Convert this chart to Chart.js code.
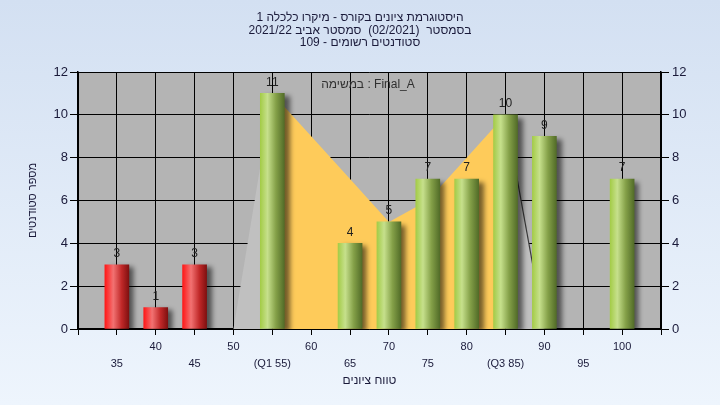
<!DOCTYPE html>
<html>
<head>
<meta charset="utf-8">
<script src="https://cdn.jsdelivr.net/npm/chart.js@4/dist/chart.umd.min.js"></script>
<style>
  body { margin: 0; background: #e6eef9; }
  #histChart { display: block; }
</style>
</head>
<body>
<canvas id="histChart" width="720" height="405"></canvas>
<script>
// ---------- data ----------
const grades = [35, 40, 45, 50, 55, 60, 65, 70, 75, 80, 85, 90, 95, 100];
const counts = [3, 1, 3, 0, 11, 0, 4, 5, 7, 7, 10, 9, 0, 7];
// background distribution curve (shaded area behind the bars)
const curve = [0, 0, 0, 0, 11, 9, 7, 5, 6, 8, 10, 0, 0, 0];
const xTickLabels = ["35", "40", "45", "50", "(Q1 55)", "60", "65", "70", "75", "80", "(Q3 85)", "90", "95", "100"];
const yTicks = [0, 2, 4, 6, 8, 10, 12];
const q1 = 55, q3 = 85, passMark = 55;

const titleLines = [
  "היסטוגרמת ציונים בקורס - מיקרו כלכלה 1",
  "בסמסטר  (02/2021)  סמסטר אביב 2021/22",
  "סטודנטים רשומים - 109"
];
const taskLabel = "במשימה : Final_A";

const FONT = "'Liberation Sans', 'DejaVu Sans', sans-serif";
const BAR_W = 24;

// cylinder-like gradient for each bar
function barGradient(c) {
  const chart = c.chart;
  const xs = chart.scales && chart.scales.x;
  if (!xs || c.dataIndex == null) return "#a6cc4a";
  const g0 = grades[c.dataIndex];
  const cx = xs.getPixelForValue(g0);
  if (!isFinite(cx)) return "#a6cc4a";
  const g = chart.ctx.createLinearGradient(cx - BAR_W / 2, 0, cx + BAR_W / 2, 0);
  if (g0 < passMark) {
    g.addColorStop(0, "#ff1818");
    g.addColorStop(0.35, "#f27272");
    g.addColorStop(0.7, "#c02828");
    g.addColorStop(1, "#801010");
  } else {
    g.addColorStop(0, "#a4cc48");
    g.addColorStop(0.3, "#c6e08c");
    g.addColorStop(0.65, "#84a048");
    g.addColorStop(1, "#526c28");
  }
  return g;
}

const bgPlugin = {
  id: "bgPlugin",
  beforeDraw(chart) {
    const { ctx, chartArea: a, width, height } = chart;
    ctx.save();
    const g = ctx.createLinearGradient(0, 0, 0, height);
    g.addColorStop(0, "#d3e0f2");
    g.addColorStop(1, "#eef5fd");
    ctx.fillStyle = g;
    ctx.fillRect(0, 0, width, height);
    ctx.fillStyle = "#b4b4b4";
    ctx.fillRect(a.left, a.top, a.right - a.left, a.bottom - a.top);
    ctx.restore();
  }
};

const shadowPlugin = {
  id: "shadowPlugin",
  beforeDatasetDraw(chart, args) {
    if (args.meta.type !== "bar") return;
    const ctx = chart.ctx;
    ctx.save();
    ctx.shadowColor = "rgba(0,0,0,0.55)";
    ctx.shadowBlur = 5;
    ctx.shadowOffsetX = 5;
    ctx.shadowOffsetY = 3;
  },
  afterDatasetDraw(chart, args) {
    if (args.meta.type !== "bar") return;
    chart.ctx.restore();
  }
};

const textPlugin = {
  id: "textPlugin",
  afterDraw(chart) {
    const ctx = chart.ctx;
    ctx.save();
    ctx.direction = "rtl";
    ctx.textAlign = "center";
    ctx.textBaseline = "middle";

    // title
    ctx.fillStyle = "#1a1a3a";
    ctx.font = "12px " + FONT;
    titleLines.forEach((t, i) => ctx.fillText(t, 360, 18 + i * 12.5));

    // task label in the plot
    ctx.direction = "ltr";
    ctx.fillStyle = "#303030";
    ctx.fillText(taskLabel, 368, 85);

    // value labels over bars
    ctx.fillStyle = "#202020";
    const meta = chart.getDatasetMeta(1);
    meta.data.forEach((bar, i) => {
      if (!counts[i]) return;
      ctx.fillText(String(counts[i]), bar.x, bar.y - 11);
    });
    ctx.restore();
  }
};

new Chart(document.getElementById("histChart"), {
  data: {
    datasets: [
      {
        type: "line",
        data: grades.map((g, i) => ({ x: g, y: curve[i] })),
        fill: "origin",
        tension: 0,
        pointRadius: 0,
        borderWidth: 1.2,
        borderColor: "rgba(0,0,0,0)",
        backgroundColor: "#c0c0c0",
        order: 2,
        segment: {
          backgroundColor: c => (c.p0.parsed.x >= q1 && c.p1.parsed.x <= q3) ? "#fecb5a" : "#c0c0c0",
          borderColor: c => (c.p0.parsed.x === q3 && c.p1.parsed.x > q3) ? "#3a3a3a" : "rgba(0,0,0,0)"
        }
      },
      {
        type: "bar",
        // empty grades get no bar (and no stray shadow)
        data: grades.map((g, i) => ({ x: g, y: counts[i] || null })),
        backgroundColor: barGradient,
        barThickness: BAR_W,
        borderWidth: 0,
        order: 1
      }
    ]
  },
  options: {
    responsive: false,
    animation: false,
    layout: { padding: { top: 72, left: 0, right: 0, bottom: 0 } },
    plugins: {
      legend: { display: false },
      tooltip: { enabled: false }
    },
    scales: {
      x: {
        type: "linear",
        min: 30,
        max: 105,
        offset: false,
        afterFit: s => { s.height = 76; },
        afterBuildTicks: s => { s.ticks = [30].concat(grades, [105]).map(v => ({ value: v })); },
        grid: { offset: false, color: "#000", tickColor: "#000", tickLength: 6, lineWidth: 1 },
        border: { color: "#000", width: 1.5 },
        ticks: {
          autoSkip: false,
          maxRotation: 0,
          padding: 3,
          color: "#1a1a3a",
          font: { family: FONT, size: 11, lineHeight: 1.55 },
          callback: v => {
            const i = grades.indexOf(v);
            if (i < 0) return "";
            return i % 2 === 0 ? ["", xTickLabels[i]] : [xTickLabels[i], ""];
          }
        },
        title: {
          display: true,
          text: "טווח ציונים",
          color: "#1a1a3a",
          font: { family: FONT, size: 12 },
          padding: { top: 0, bottom: 17 }
        }
      },
      y: {
        position: "left",
        min: 0,
        max: 12,
        afterFit: s => { s.width = 78; },
        afterBuildTicks: s => { s.ticks = yTicks.map(v => ({ value: v })); },
        grid: { color: "#000", tickColor: "#000", tickLength: 8 },
        border: { color: "#000", width: 1.5 },
        ticks: { padding: 2, color: "#1a1a3a", font: { family: FONT, size: 13 } },
        title: {
          display: true,
          text: "מספר סטודנטים",
          color: "#1a1a3a",
          font: { family: FONT, size: 11 },
          padding: { top: 26, bottom: 0 }
        }
      },
      y2: {
        position: "right",
        min: 0,
        max: 12,
        afterFit: s => { s.width = 59; },
        afterBuildTicks: s => { s.ticks = yTicks.map(v => ({ value: v })); },
        grid: { drawOnChartArea: false, tickColor: "#000", tickLength: 8 },
        border: { color: "#000", width: 1.5 },
        ticks: { padding: 3, color: "#1a1a3a", font: { family: FONT, size: 13 } }
      }
    }
  },
  plugins: [bgPlugin, shadowPlugin, textPlugin]
});
</script>
</body>
</html>
